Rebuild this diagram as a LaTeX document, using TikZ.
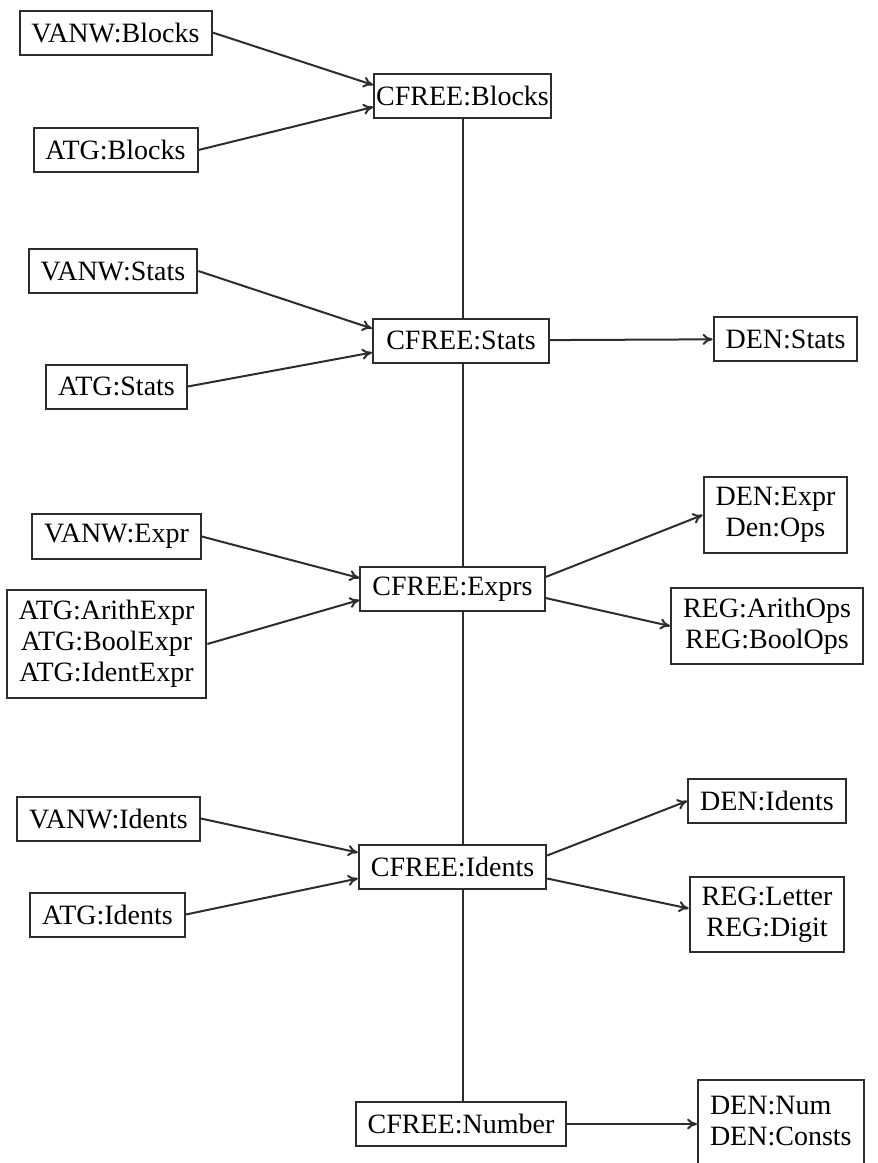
\documentclass[tikz,border=0pt]{standalone}
\usepackage{fontspec}
\setmainfont{Liberation Serif}
\usetikzlibrary{arrows.meta,positioning,backgrounds}
\definecolor{ink}{RGB}{45,45,45}
\tikzset{
  bx/.style={rectangle,draw=ink,fill=white,line width=1pt,align=center,
    font=\fontsize{14}{15.5}\selectfont,inner xsep=6pt,inner ysep=5pt,
    minimum height=22pt},
  cf/.style={bx,minimum width=88pt},
  arr/.style={-{To[length=5pt,width=5.5pt]},line width=1pt,color=ink},
  ln/.style={line width=1pt,color=ink},
}
\begin{document}
\begin{tikzpicture}[x=0.5pt,y=-0.5pt]
  \useasboundingbox (0,0) rectangle (878,1163);

    % ── Blocks ────────────────────────────────────────────────────────────────
    \node[bx] (vb) at (115.5,32.5) {VANW:Blocks};
    \node[bx] (ab) at (115.5,150)  {ATG:Blocks};
    \node[cf,inner xsep=1pt] (cb) at (462.5,96) {CFREE:Blocks};

    \draw[arr] (vb.east)--([yshift=5.5pt]cb.west);
    \draw[arr] (ab.east)--([yshift=-5.5pt]cb.west);

    % ── Stats ─────────────────────────────────────────────────────────────────
    \node[bx] (vs) at (113,271)    {VANW:Stats};
    \node[bx] (as) at (116.5,386.5) {ATG:Stats};
    \node[cf]  (cs) at (461,340.5)  {CFREE:Stats};
    \node[bx] (ds) at (785.5,339)  {DEN:Stats};

    \draw[arr] (vs.east)--([yshift=6pt]cs.west);
    \draw[arr] (as.east)--([yshift=-6pt]cs.west);
    \draw[arr] (cs)--(ds);

    % ── Exprs ─────────────────────────────────────────────────────────────────
    \node[bx] (ve) at (116.5,536.5) {VANW:Expr};
    \node[bx] (ae) at (106.5,644)   {ATG:ArithExpr\\ATG:BoolExpr\\ATG:IdentExpr};
    \node[cf]  (ce) at (452.5,589)   {CFREE:Exprs};
    \node[bx] (de) at (775.5,515)   {DEN:Expr\\Den:Ops};
    \node[bx] (re) at (767,626)     {REG:ArithOps\\REG:BoolOps};

    \draw[arr] (ve.east)--([yshift=5.5pt]ce.west);
    \draw[arr] (ae.east)--([yshift=-5.5pt]ce.west);
    \draw[arr] ([yshift=6pt]ce.east)--(de.west);
    \draw[arr] ([yshift=-4.5pt]ce.east)--(re.west);

    % ── Idents ────────────────────────────────────────────────────────────────
    \node[bx] (vi) at (108.5,818.5) {VANW:Idents};
    \node[bx] (ai) at (107.5,914.5) {ATG:Idents};
    \node[cf]  (ci) at (452.5,866.5) {CFREE:Idents};
    \node[bx] (di) at (767,801)     {DEN:Idents};
    \node[bx] (ri) at (767,914.5)   {REG:Letter\\REG:Digit};

    \draw[arr] (vi.east)--([yshift=7pt]ci.west);
    \draw[arr] (ai.east)--([yshift=-6pt]ci.west);
    \draw[arr] ([yshift=5.5pt]ci.east)--(di.west);
    \draw[arr] ([yshift=-6pt]ci.east)--([yshift=3pt]ri.west);

    % ── Number ────────────────────────────────────────────────────────────────
    \node[cf] (cn) at (461,1124) {CFREE:Number};
    \node[bx,align=left,inner ysep=8pt,text depth=9pt,anchor=north west] (dn)
      at (697,1079) {DEN:Num\\DEN:Consts};

    \draw[arr] (cn.east)--(cn.east-|dn.west);

    % spine behind the CFREE column
    \begin{scope}[on background layer]
      \draw[ln] (cb.south)--(cb.south|-cn.north);
    \end{scope}

\end{tikzpicture}
\end{document}
